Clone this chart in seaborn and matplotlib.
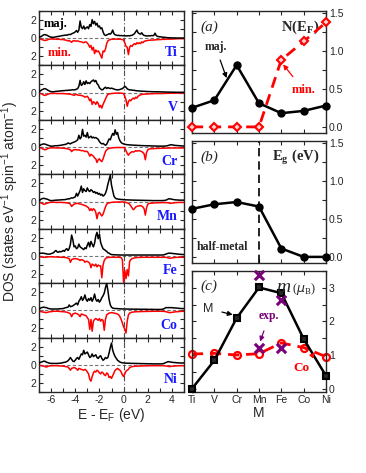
#!/usr/bin/env python3
"""
Spin-resolved DOS of the 3d series (Ti..Ni) plus N(E_F), gap and moment panels.

Output: out.png (366x473 px)
"""

import numpy as np
import seaborn as sns
import matplotlib.pyplot as plt
import matplotlib.ticker as ticker

# --- Data -------------------------------------------------------------------
# energy grid of the DOS curves, E - E_F in eV (step 0.1)
energy = np.round(np.arange(-7.0, 5.001, 0.1), 1)

elements = ["Ti", "V", "Cr", "Mn", "Fe", "Co", "Ni"]

# DOS values (states/eV/spin/atom), one row per eV from -7 to 5
ti_maj = [0.10, 0.15, 0.20, 0.30, 0.38, 0.40, 0.35, 0.30, 0.22, 0.15,
          0.12, 0.10, 0.10, 0.12, 0.15, 0.18, 0.20, 0.22, 0.25, 0.28,
          0.30, 0.32, 0.35, 0.33, 0.38, 0.42, 0.40, 0.48, 0.55, 0.60,
          0.70, 0.85, 0.65, 0.90, 1.90, 1.20, 1.05, 1.35, 1.00, 1.15,
          1.25, 1.05, 1.50, 1.30, 2.05, 1.60, 1.85, 1.45, 1.65, 1.25,
          1.35, 1.05, 1.15, 0.70, 0.40, 0.30, 0.35, 0.42, 0.50, 0.45,
          0.60, 0.90, 0.50, 0.38, 0.33, 0.30, 0.32, 0.28, 0.30, 0.27,
          0.28, 0.26, 0.27, 0.25, 0.28, 0.26, 0.30, 0.32, 0.40, 0.50,
          0.70, 0.90, 0.60, 0.50, 0.45, 0.60, 0.40, 0.30, 0.28, 0.25,
          0.25, 0.28, 0.25, 0.30, 0.28, 0.30, 0.55, 0.30, 0.20, 0.18,
          0.15, 0.15, 0.12, 0.10, 0.10, 0.08, 0.06, 0.05, 0.05, 0.04,
          0.04, 0.03, 0.03, 0.03, 0.02, 0.02, 0.02, 0.02, 0.02, 0.02,
          0.02]
ti_min = [0.05, 0.08, 0.12, 0.18, 0.22, 0.25, 0.22, 0.18, 0.12, 0.10,
          0.08, 0.08, 0.10, 0.10, 0.10, 0.12, 0.12, 0.12, 0.14, 0.15,
          0.15, 0.18, 0.20, 0.25, 0.30, 0.25, 0.35, 0.45, 0.30, 0.28,
          0.30, 0.32, 0.30, 0.35, 0.38, 0.40, 0.45, 0.50, 0.42, 0.40,
          0.55, 0.70, 1.00, 0.80, 1.30, 1.00, 1.70, 1.30, 1.50, 1.40,
          1.60, 1.90, 2.20, 1.40, 1.50, 1.20, 0.60, 0.30, 0.20, 0.15,
          0.12, 0.12, 0.10, 0.10, 0.10, 0.10, 0.10, 0.10, 0.12, 0.15,
          0.20, 0.50, 0.90, 1.00, 1.80, 1.00, 0.80, 0.90, 0.70, 0.60,
          0.70, 0.50, 0.60, 0.50, 0.60, 0.40, 0.50, 0.35, 0.30, 0.28,
          0.25, 0.22, 0.22, 0.20, 0.20, 0.20, 0.18, 0.18, 0.16, 0.15,
          0.15, 0.14, 0.13, 0.12, 0.12, 0.10, 0.10, 0.10, 0.10, 0.10,
          0.10, 0.08, 0.08, 0.07, 0.06, 0.06, 0.05, 0.05, 0.05, 0.05,
          0.05]
v_maj = [0.10, 0.18, 0.28, 0.35, 0.42, 0.44, 0.38, 0.30, 0.22, 0.15,
         0.12, 0.10, 0.10, 0.12, 0.14, 0.15, 0.16, 0.18, 0.20, 0.20,
         0.22, 0.22, 0.25, 0.24, 0.26, 0.28, 0.27, 0.30, 0.32, 0.30,
         0.32, 0.38, 0.45, 0.70, 1.35, 0.80, 0.90, 1.20, 0.90, 1.30,
         1.00, 1.10, 1.00, 1.20, 1.30, 1.40, 1.20, 1.35, 1.00, 0.85,
         0.55, 0.40, 0.30, 0.35, 0.50, 0.60, 0.45, 0.55, 0.50, 0.45,
         0.50, 0.45, 0.40, 0.35, 0.32, 0.30, 0.32, 0.35, 0.40, 0.45,
         0.55, 0.70, 0.60, 0.42, 0.35, 0.30, 0.30, 0.28, 0.26, 0.25,
         0.22, 0.20, 0.20, 0.18, 0.17, 0.16, 0.15, 0.15, 0.14, 0.13,
         0.12, 0.12, 0.11, 0.11, 0.10, 0.10, 0.10, 0.10, 0.09, 0.09,
         0.09, 0.08, 0.08, 0.08, 0.07, 0.07, 0.06, 0.06, 0.06, 0.05,
         0.05, 0.05, 0.05, 0.04, 0.04, 0.04, 0.04, 0.04, 0.04, 0.04,
         0.04]
v_min = [0.05, 0.08, 0.12, 0.20, 0.28, 0.30, 0.25, 0.20, 0.15, 0.10,
         0.08, 0.08, 0.08, 0.08, 0.09, 0.10, 0.10, 0.10, 0.10, 0.10,
         0.10, 0.12, 0.12, 0.14, 0.15, 0.15, 0.18, 0.20, 0.25, 0.30,
         0.22, 0.20, 0.25, 0.30, 0.28, 0.32, 0.35, 0.40, 0.50, 0.45,
         0.40, 0.60, 0.90, 0.70, 1.30, 1.00, 1.10, 1.30, 1.00, 1.20,
         1.60, 1.40, 1.70, 1.30, 1.00, 0.70, 0.40, 0.20, 0.15, 0.12,
         0.10, 0.08, 0.07, 0.06, 0.06, 0.05, 0.05, 0.05, 0.06, 0.08,
         0.10, 0.40, 0.80, 1.50, 1.00, 0.80, 0.90, 0.70, 0.60, 0.70,
         0.50, 0.60, 0.40, 0.30, 0.25, 0.20, 0.18, 0.17, 0.16, 0.15,
         0.15, 0.14, 0.13, 0.12, 0.12, 0.11, 0.10, 0.10, 0.10, 0.10,
         0.10, 0.10, 0.09, 0.09, 0.08, 0.08, 0.08, 0.07, 0.07, 0.06,
         0.06, 0.06, 0.05, 0.05, 0.05, 0.05, 0.05, 0.05, 0.05, 0.05,
         0.05]
cr_maj = [0.15, 0.20, 0.28, 0.32, 0.35, 0.32, 0.28, 0.22, 0.18, 0.12,
          0.10, 0.10, 0.12, 0.14, 0.15, 0.15, 0.17, 0.18, 0.20, 0.22,
          0.25, 0.28, 0.30, 0.35, 0.45, 0.40, 0.35, 0.45, 0.50, 0.55,
          0.60, 0.70, 0.80, 1.30, 0.90, 1.10, 1.95, 1.20, 1.30, 1.10,
          1.60, 1.00, 1.10, 1.20, 1.00, 1.10, 1.00, 1.05, 0.95, 0.85,
          0.60, 0.45, 0.35, 0.40, 0.30, 0.20, 0.30, 0.60, 0.90, 0.80,
          1.20, 1.50, 1.30, 1.90, 1.40, 1.60, 1.00, 0.70, 0.50, 0.40,
          0.35, 0.30, 0.28, 0.26, 0.25, 0.24, 0.23, 0.22, 0.21, 0.20,
          0.20, 0.19, 0.18, 0.18, 0.17, 0.16, 0.16, 0.15, 0.15, 0.15,
          0.14, 0.14, 0.13, 0.13, 0.12, 0.12, 0.12, 0.11, 0.11, 0.10,
          0.10, 0.10, 0.10, 0.10, 0.11, 0.12, 0.14, 0.18, 0.22, 0.25,
          0.25, 0.22, 0.20, 0.18, 0.17, 0.16, 0.15, 0.14, 0.13, 0.12,
          0.12]
cr_min = [0.05, 0.08, 0.12, 0.20, 0.25, 0.30, 0.25, 0.18, 0.15, 0.10,
          0.08, 0.08, 0.08, 0.09, 0.10, 0.10, 0.10, 0.10, 0.10, 0.12,
          0.12, 0.14, 0.15, 0.18, 0.20, 0.25, 0.30, 0.50, 0.35, 0.30,
          0.28, 0.30, 0.32, 0.30, 0.35, 0.40, 0.38, 0.42, 0.50, 0.45,
          0.50, 0.70, 1.00, 0.80, 0.90, 1.00, 1.20, 1.30, 1.70, 1.40,
          1.30, 1.50, 1.60, 1.30, 0.90, 0.50, 0.30, 0.20, 0.15, 0.12,
          0.10, 0.08, 0.07, 0.06, 0.05, 0.05, 0.05, 0.05, 0.05, 0.05,
          0.05, 0.10, 0.40, 0.70, 0.90, 0.70, 0.60, 0.50, 0.55, 0.50,
          0.40, 0.45, 0.40, 0.40, 0.45, 0.50, 0.60, 0.75, 1.40, 0.60,
          0.30, 0.22, 0.20, 0.18, 0.18, 0.17, 0.16, 0.15, 0.15, 0.14,
          0.14, 0.13, 0.13, 0.12, 0.12, 0.12, 0.11, 0.11, 0.10, 0.10,
          0.10, 0.10, 0.10, 0.10, 0.10, 0.10, 0.10, 0.10, 0.10, 0.10,
          0.10]
mn_maj = [0.10, 0.18, 0.28, 0.33, 0.35, 0.32, 0.28, 0.25, 0.18, 0.12,
          0.10, 0.10, 0.12, 0.13, 0.15, 0.15, 0.16, 0.17, 0.18, 0.19,
          0.20, 0.20, 0.22, 0.25, 0.30, 0.28, 0.35, 0.40, 0.38, 0.45,
          0.50, 0.90, 0.60, 0.90, 1.20, 1.70, 1.00, 1.40, 1.20, 1.10,
          1.50, 1.20, 1.10, 1.30, 1.20, 1.00, 1.10, 0.90, 1.00, 0.80,
          0.90, 0.70, 0.80, 0.60, 0.70, 0.90, 1.30, 1.90, 2.40, 2.90,
          1.80, 1.20, 0.60, 0.40, 0.30, 0.28, 0.25, 0.24, 0.22, 0.21,
          0.20, 0.19, 0.18, 0.18, 0.17, 0.17, 0.16, 0.16, 0.15, 0.15,
          0.15, 0.14, 0.14, 0.14, 0.13, 0.13, 0.13, 0.12, 0.12, 0.12,
          0.12, 0.11, 0.11, 0.11, 0.10, 0.10, 0.10, 0.10, 0.10, 0.10,
          0.10, 0.10, 0.10, 0.11, 0.12, 0.15, 0.20, 0.28, 0.30, 0.28,
          0.25, 0.22, 0.20, 0.18, 0.17, 0.16, 0.15, 0.15, 0.15, 0.15,
          0.15]
mn_min = [0.05, 0.10, 0.18, 0.25, 0.30, 0.28, 0.22, 0.18, 0.14, 0.10,
          0.08, 0.08, 0.08, 0.09, 0.10, 0.10, 0.10, 0.10, 0.10, 0.10,
          0.12, 0.12, 0.14, 0.15, 0.18, 0.20, 0.30, 0.55, 0.40, 0.30,
          0.25, 0.22, 0.20, 0.25, 0.28, 0.30, 0.35, 0.40, 0.45, 0.50,
          0.60, 0.70, 1.00, 0.80, 1.00, 0.80, 0.90, 1.20, 1.90, 1.30,
          1.20, 1.40, 1.60, 1.40, 1.00, 0.60, 0.30, 0.20, 0.15, 0.12,
          0.10, 0.08, 0.07, 0.06, 0.06, 0.05, 0.05, 0.05, 0.05, 0.05,
          0.05, 0.08, 0.10, 0.15, 0.20, 0.30, 0.50, 0.70, 0.90, 0.80,
          0.60, 0.55, 0.50, 0.48, 0.45, 0.50, 0.60, 0.80, 1.50, 0.70,
          0.30, 0.22, 0.20, 0.18, 0.17, 0.16, 0.15, 0.15, 0.14, 0.14,
          0.13, 0.13, 0.12, 0.12, 0.12, 0.12, 0.13, 0.15, 0.18, 0.20,
          0.18, 0.16, 0.14, 0.12, 0.12, 0.11, 0.10, 0.10, 0.10, 0.10,
          0.10]
fe_maj = [0.25, 0.30, 0.30, 0.30, 0.30, 0.25, 0.25, 0.20, 0.20, 0.20,
          0.25, 0.30, 0.35, 0.50, 0.60, 0.45, 0.40, 0.50, 0.45, 0.50,
          0.60, 0.50, 0.70, 0.80, 0.60, 0.80, 1.30, 2.30, 1.80, 1.00,
          1.10, 0.80, 0.90, 1.30, 1.00, 0.90, 0.80, 0.70, 0.90, 0.80,
          1.20, 1.50, 1.00, 1.60, 1.30, 1.00, 1.40, 2.20, 2.60, 1.90,
          2.40, 1.50, 1.10, 0.80, 0.70, 0.60, 0.50, 0.35, 0.30, 0.20,
          0.15, 0.14, 0.13, 0.12, 0.12, 0.11, 0.11, 0.10, 0.10, 0.10,
          0.10, 0.10, 0.10, 0.10, 0.10, 0.10, 0.10, 0.10, 0.10, 0.10,
          0.10, 0.10, 0.10, 0.10, 0.10, 0.10, 0.10, 0.10, 0.10, 0.10,
          0.10, 0.10, 0.10, 0.10, 0.10, 0.10, 0.10, 0.10, 0.10, 0.10,
          0.10, 0.10, 0.10, 0.12, 0.15, 0.20, 0.25, 0.30, 0.30, 0.30,
          0.28, 0.26, 0.25, 0.24, 0.22, 0.20, 0.19, 0.18, 0.17, 0.16,
          0.15]
fe_min = [0.10, 0.10, 0.12, 0.14, 0.15, 0.15, 0.14, 0.12, 0.10, 0.10,
          0.10, 0.10, 0.10, 0.12, 0.12, 0.12, 0.13, 0.14, 0.15, 0.15,
          0.15, 0.16, 0.18, 0.20, 0.25, 0.30, 0.70, 0.40, 0.35, 0.30,
          0.30, 0.32, 0.35, 0.40, 0.50, 0.40, 0.45, 0.50, 0.70, 0.60,
          0.60, 0.70, 0.80, 1.30, 0.90, 1.00, 1.10, 0.90, 1.20, 1.00,
          1.10, 1.10, 2.40, 1.00, 0.50, 0.30, 0.20, 0.18, 0.16, 0.15,
          0.15, 0.15, 0.15, 0.15, 0.15, 0.15, 0.15, 0.15, 0.20, 0.40,
          2.90, 1.60, 2.50, 1.50, 2.20, 0.60, 0.40, 0.30, 0.25, 0.22,
          0.20, 0.18, 0.17, 0.16, 0.16, 0.15, 0.15, 0.15, 0.15, 0.15,
          0.15, 0.15, 0.15, 0.15, 0.15, 0.15, 0.15, 0.15, 0.15, 0.15,
          0.15, 0.15, 0.15, 0.15, 0.15, 0.16, 0.18, 0.22, 0.25, 0.25,
          0.22, 0.20, 0.18, 0.17, 0.16, 0.15, 0.15, 0.15, 0.15, 0.15,
          0.15]
co_maj = [0.15, 0.22, 0.30, 0.33, 0.35, 0.32, 0.30, 0.25, 0.20, 0.17,
          0.15, 0.15, 0.15, 0.15, 0.15, 0.15, 0.16, 0.17, 0.18, 0.19,
          0.20, 0.25, 0.30, 0.32, 0.35, 0.60, 0.40, 0.45, 0.50, 0.60,
          0.70, 0.80, 0.60, 1.00, 1.20, 1.50, 1.10, 1.30, 1.70, 1.20,
          1.00, 1.30, 1.10, 1.40, 1.00, 1.30, 1.80, 1.20, 1.00, 1.20,
          0.90, 1.10, 1.40, 1.60, 1.90, 2.50, 3.00, 2.20, 1.20, 0.60,
          0.35, 0.25, 0.22, 0.20, 0.20, 0.19, 0.18, 0.17, 0.16, 0.16,
          0.15, 0.15, 0.15, 0.14, 0.14, 0.14, 0.14, 0.13, 0.13, 0.13,
          0.13, 0.13, 0.13, 0.12, 0.12, 0.12, 0.12, 0.12, 0.12, 0.12,
          0.11, 0.11, 0.11, 0.11, 0.11, 0.10, 0.10, 0.10, 0.10, 0.10,
          0.10, 0.10, 0.12, 0.15, 0.22, 0.30, 0.30, 0.30, 0.30, 0.30,
          0.30, 0.28, 0.27, 0.26, 0.25, 0.24, 0.22, 0.21, 0.20, 0.20,
          0.20]
co_min = [0.10, 0.12, 0.15, 0.18, 0.20, 0.22, 0.25, 0.22, 0.18, 0.15,
          0.15, 0.12, 0.10, 0.10, 0.10, 0.10, 0.10, 0.12, 0.13, 0.14,
          0.15, 0.16, 0.18, 0.20, 0.25, 0.30, 0.40, 0.70, 0.40, 0.35,
          0.30, 0.35, 0.40, 0.50, 0.70, 0.40, 0.45, 0.50, 0.55, 0.60,
          0.80, 1.00, 2.10, 1.00, 2.30, 1.20, 1.00, 0.90, 1.00, 1.10,
          0.90, 1.20, 1.00, 1.10, 2.20, 1.00, 0.50, 0.40, 0.30, 0.28,
          0.25, 0.27, 0.30, 0.33, 0.35, 0.42, 0.50, 0.70, 1.00, 1.40,
          1.80, 2.10, 2.50, 1.20, 0.50, 0.30, 0.25, 0.20, 0.18, 0.17,
          0.15, 0.15, 0.14, 0.14, 0.13, 0.13, 0.13, 0.12, 0.12, 0.12,
          0.11, 0.11, 0.11, 0.11, 0.10, 0.10, 0.10, 0.10, 0.10, 0.10,
          0.10, 0.10, 0.10, 0.11, 0.12, 0.15, 0.18, 0.22, 0.25, 0.24,
          0.22, 0.20, 0.18, 0.16, 0.15, 0.14, 0.13, 0.12, 0.11, 0.10,
          0.10]
ni_maj = [0.20, 0.25, 0.30, 0.35, 0.40, 0.38, 0.30, 0.25, 0.20, 0.17,
          0.15, 0.15, 0.15, 0.15, 0.15, 0.15, 0.16, 0.17, 0.18, 0.20,
          0.25, 0.27, 0.30, 0.35, 0.45, 0.60, 0.80, 0.60, 0.40, 0.35,
          0.50, 0.70, 0.80, 0.60, 0.90, 1.20, 1.10, 1.60, 1.20, 1.30,
          1.40, 1.10, 0.80, 0.90, 1.20, 0.90, 1.00, 1.10, 0.80, 0.70,
          0.90, 1.00, 0.70, 0.50, 0.60, 0.80, 0.70, 0.80, 1.30, 1.90,
          2.40, 1.60, 1.20, 0.90, 0.70, 0.50, 0.40, 0.30, 0.25, 0.22,
          0.20, 0.19, 0.18, 0.18, 0.17, 0.17, 0.16, 0.16, 0.15, 0.15,
          0.15, 0.14, 0.14, 0.14, 0.13, 0.13, 0.13, 0.12, 0.12, 0.12,
          0.11, 0.11, 0.11, 0.11, 0.10, 0.10, 0.10, 0.10, 0.10, 0.10,
          0.10, 0.10, 0.11, 0.13, 0.18, 0.25, 0.30, 0.35, 0.32, 0.30,
          0.28, 0.26, 0.25, 0.24, 0.22, 0.21, 0.20, 0.20, 0.20, 0.20,
          0.20]
ni_min = [0.05, 0.08, 0.10, 0.12, 0.15, 0.20, 0.25, 0.20, 0.15, 0.12,
          0.10, 0.10, 0.10, 0.10, 0.10, 0.10, 0.11, 0.12, 0.13, 0.14,
          0.15, 0.17, 0.20, 0.22, 0.25, 0.40, 0.60, 0.40, 0.35, 0.30,
          0.35, 0.45, 0.60, 0.40, 0.45, 0.50, 0.55, 0.60, 0.50, 0.60,
          0.80, 1.00, 1.60, 1.80, 1.30, 0.90, 0.70, 0.80, 0.60, 0.70,
          0.90, 1.00, 0.80, 0.90, 1.10, 1.20, 0.90, 1.00, 1.40, 1.30,
          1.50, 1.20, 0.90, 0.60, 0.50, 0.40, 0.50, 0.60, 0.80, 1.10,
          1.30, 1.00, 0.70, 0.60, 0.50, 0.30, 0.25, 0.20, 0.18, 0.17,
          0.15, 0.15, 0.14, 0.14, 0.13, 0.13, 0.12, 0.12, 0.12, 0.11,
          0.11, 0.11, 0.10, 0.10, 0.10, 0.10, 0.10, 0.10, 0.10, 0.10,
          0.10, 0.10, 0.10, 0.10, 0.11, 0.13, 0.15, 0.18, 0.20, 0.18,
          0.16, 0.15, 0.14, 0.13, 0.12, 0.12, 0.11, 0.10, 0.10, 0.10,
          0.10]

dos_maj = [ti_maj, v_maj, cr_maj, mn_maj, fe_maj, co_maj, ni_maj]
dos_min = [ti_min, v_min, cr_min, mn_min, fe_min, co_min, ni_min]

# (a) N(E_F) per spin channel
nef_maj = [0.25, 0.35, 0.81, 0.31, 0.18, 0.21, 0.28]
nef_min = [0.0, 0.0, 0.0, 0.0, 0.88, 1.12, 1.37]
# (b) gap in eV
gap = [0.63, 0.69, 0.72, 0.66, 0.11, 0.0, 0.0]
# (c) moments in mu_B
mom_m = [0.0, 0.84, 2.10, 3.01, 2.84, 1.48, 0.38]
mom_co = [1.03, 1.05, 1.0, 1.04, 1.36, 1.22, 0.95]
exp_x = [3, 4, 3, 4]
exp_m = [3.39, 2.64, 1.22, 1.22]

# --- Style ------------------------------------------------------------------
sns.set_style("ticks")
plt.rcParams["font.family"] = ["Liberation Sans", "DejaVu Sans"]
plt.rcParams["axes.unicode_minus"] = False
plt.rcParams["axes.linewidth"] = 1.0

RED = "#ff0000"
BLUE = "#1a1aff"
PURPLE = "#7a007a"
SERIF = "Liberation Serif"

W, H = 366, 473
fig = plt.figure(figsize=(W / 100, H / 100), dpi=100)


def px_axes(x0, y0, x1, y1):
    """Add axes from pixel box (top-left origin)."""
    return fig.add_axes([x0 / W, 1 - y1 / H, (x1 - x0) / W, (y1 - y0) / H])


def style_ticks(ax):
    ax.tick_params(which="both", direction="in", top=True, right=True,
                   length=3.2, width=0.8, labelsize=7.5, pad=2)


# --- Left: DOS stack ----------------------------------------------------------
top, bot = 11, 392
ph = (bot - top) / len(elements)
abs_fmt = ticker.FuncFormatter(lambda v, pos: f"{abs(v):g}")

for i, el in enumerate(elements):
    ax = px_axes(39, top + i * ph, 184, top + (i + 1) * ph)
    ax.axhline(0, color="0.45", lw=0.8, ls=(0, (3, 2)), zorder=1)
    ax.axvline(0, color="0.3", lw=0.8, ls=(0, (5, 2, 1, 2)), zorder=1)
    sns.lineplot(x=energy, y=dos_maj[i], color="black", lw=1.1, ax=ax, zorder=3)
    sns.lineplot(x=energy, y=-np.asarray(dos_min[i]), color=RED, lw=1.1, ax=ax, zorder=2)
    ax.set_xlim(-7, 5)
    ax.set_ylim(-3, 3)
    ax.xaxis.set_major_locator(ticker.MultipleLocator(2))
    ax.xaxis.set_minor_locator(ticker.MultipleLocator(1))
    ax.yaxis.set_major_locator(ticker.FixedLocator([-2, 0, 2]))
    ax.yaxis.set_minor_locator(ticker.MultipleLocator(1))
    ax.yaxis.set_major_formatter(abs_fmt)
    style_ticks(ax)
    ax.set_xlabel("")
    ax.set_ylabel("")
    if i < len(elements) - 1:
        ax.tick_params(labelbottom=False)
    else:
        ax.set_xlabel(r"E - E$_\mathregular{F}$ (eV)", fontsize=10, labelpad=1)
    ax.text(0.955, 0.23, el, transform=ax.transAxes, ha="right", va="center",
            color=BLUE, fontsize=10, fontweight="bold", family=SERIF)
    if i == 0:
        ax.text(0.03, 0.76, "maj.", transform=ax.transAxes, ha="left", va="center",
                color="black", fontsize=9, fontweight="bold", family=SERIF)
        ax.text(0.06, 0.22, "min.", transform=ax.transAxes, ha="left", va="center",
                color=RED, fontsize=9, fontweight="bold", family=SERIF)

fig.text(10 / W, 1 - (top + bot) / 2 / H,
         r"DOS (states eV$^\mathregular{-1}$ spin$^\mathregular{-1}$ atom$^\mathregular{-1}$)",
         rotation=90, ha="center", va="center", fontsize=10)

# --- Right: panels (a), (b), (c) ----------------------------------------------
xs = list(range(len(elements)))
ax_a = px_axes(192, 11, 326, 133)
ax_b = px_axes(192, 141, 326, 263)
ax_c = px_axes(192, 271, 326, 392)

for ax in (ax_a, ax_b, ax_c):
    ax.set_xlim(0, 6)
    ax.set_xticks(xs)
    ax.set_xticklabels(elements)
    style_ticks(ax)
    ax.tick_params(labelleft=False, labelright=True, labelbottom=False)

for ax in (ax_a, ax_b):
    ax.set_ylim(-0.08, 1.52)
    ax.yaxis.set_major_locator(ticker.MultipleLocator(0.5))
    ax.yaxis.set_minor_locator(ticker.MultipleLocator(0.25))
    ax.yaxis.set_major_formatter(ticker.FormatStrFormatter("%.1f"))

# (a) N(E_F)
sns.lineplot(x=xs, y=nef_maj, ax=ax_a, color="black", lw=1.8, marker="o",
             ms=5, mfc="black", mec="black", mew=1, clip_on=False, zorder=3)
sns.lineplot(x=xs, y=nef_min, ax=ax_a, color=RED, lw=2.0, ls=(0, (4, 2.5)),
             marker="D", ms=4.5, mfc="#ffd0d0", mec=RED, mew=1.5, clip_on=False, zorder=4)
ax_a.text(0.06, 0.87, "(a)", transform=ax_a.transAxes, fontsize=11,
          style="italic", family=SERIF, va="center")
ax_a.text(0.95, 0.87, r"N(E$_\mathregular{F}$)", transform=ax_a.transAxes,
          fontsize=10.5, fontweight="bold", family=SERIF, ha="right", va="center")
ax_a.annotate("maj.", xy=(1.55, 0.64), xytext=(1.05, 1.05), fontsize=8.5,
              fontweight="bold", family=SERIF, ha="center", va="center",
              arrowprops=dict(arrowstyle="-|>", color="black", lw=0.9,
                              mutation_scale=7, shrinkA=3, shrinkB=0))
ax_a.annotate("min.", xy=(4.08, 0.82), xytext=(5.0, 0.48), fontsize=9,
              fontweight="bold", family=SERIF, color=RED, ha="center", va="center",
              arrowprops=dict(arrowstyle="-|>", color=RED, lw=0.9,
                              mutation_scale=7, shrinkA=4, shrinkB=0))

# (b) gap
ax_b.axvline(3, color="black", lw=1.2, ls=(0, (5, 3)), zorder=1)
sns.lineplot(x=xs, y=gap, ax=ax_b, color="black", lw=1.8, marker="o", ms=5,
             mfc="black", mec="black", mew=1, clip_on=False, zorder=3)
ax_b.text(0.06, 0.87, "(b)", transform=ax_b.transAxes, fontsize=11,
          style="italic", family=SERIF, va="center")
ax_b.text(0.95, 0.87, r"E$_\mathregular{g}$ (eV)", transform=ax_b.transAxes,
          fontsize=10.5, fontweight="bold", family=SERIF, ha="right", va="center")
ax_b.text(0.035, 0.13, "half-metal", transform=ax_b.transAxes, fontsize=8.5,
          fontweight="bold", family=SERIF, ha="left", va="center")

# (c) moments
ax_c.set_ylim(-0.1, 3.5)
ax_c.yaxis.set_major_locator(ticker.MultipleLocator(1))
ax_c.yaxis.set_minor_locator(ticker.MultipleLocator(0.5))
ax_c.tick_params(labelbottom=True)
sns.lineplot(x=xs, y=mom_co, ax=ax_c, color=RED, lw=2.0, ls=(0, (4, 2.5)),
             marker="o", ms=5, mfc="none", mec=RED, mew=1.6, clip_on=False, zorder=2)
sns.lineplot(x=xs, y=mom_m, ax=ax_c, color="black", lw=1.8, marker="s", ms=5,
             mfc="0.15", mec="black", mew=1.5, clip_on=False, zorder=3)
sns.scatterplot(x=exp_x, y=exp_m, ax=ax_c, marker="x", s=45, color=PURPLE,
                linewidth=2.2, zorder=5, clip_on=False)
ax_c.text(0.06, 0.87, "(c)", transform=ax_c.transAxes, fontsize=11,
          style="italic", family=SERIF, va="center")
ax_c.text(0.63, 0.86, "m", transform=ax_c.transAxes, fontsize=14,
          style="italic", family=SERIF, ha="left", va="center")
ax_c.text(0.745, 0.85, r"($\mu_\mathregular{B}$)", transform=ax_c.transAxes,
          fontsize=9, family=SERIF, ha="left", va="center")
ax_c.annotate("M", xy=(1.82, 2.2), xytext=(0.72, 2.38), fontsize=9,
              ha="center", va="center",
              arrowprops=dict(arrowstyle="-|>", color="black", lw=0.9,
                              mutation_scale=7, shrinkA=4, shrinkB=0))
ax_c.annotate("exp.", xy=(3.05, 1.4), xytext=(3.45, 2.15), fontsize=8.5,
              fontweight="bold", family=SERIF, color=PURPLE, ha="center", va="center",
              arrowprops=dict(arrowstyle="-|>", color=PURPLE, lw=0.9,
                              mutation_scale=7, shrinkA=4, shrinkB=0))
ax_c.annotate("Co", xy=(5.5, 1.08), xytext=(4.92, 0.62), fontsize=9.5,
              fontweight="bold", family=SERIF, color=RED, ha="center", va="center",
              arrowprops=dict(arrowstyle="-|>", color=RED, lw=0.9,
                              mutation_scale=7, shrinkA=3, shrinkB=0))
ax_c.set_xlabel("M", fontsize=10, labelpad=1)
ax_c.set_ylabel("")

fig.savefig("out.png", dpi=100)
